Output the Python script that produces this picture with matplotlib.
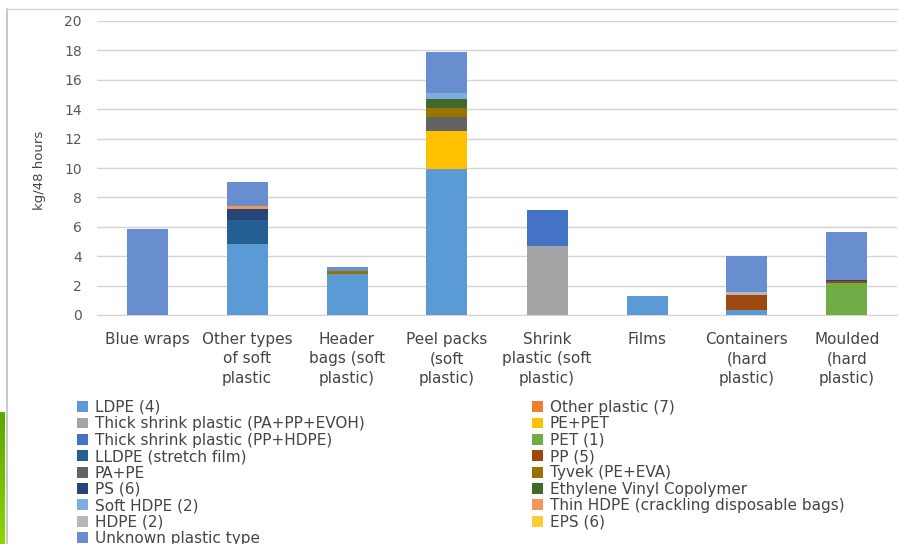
import matplotlib
matplotlib.use("Agg")
import matplotlib.pyplot as plt
import numpy as np
from matplotlib.lines import Line2D
from matplotlib.colors import LinearSegmentedColormap

categories = ["Blue wraps", "Other types\nof soft\nplastic", "Header\nbags (soft\nplastic)",
              "Peel packs\n(soft\nplastic)", "Shrink\nplastic (soft\nplastic)", "Films",
              "Containers\n(hard\nplastic)", "Moulded\n(hard\nplastic)"]

ldpe            = [0,    4.84, 2.80, 9.90, 0,    1.30, 0.34, 0]
thick_pa_pp     = [0,    0,    0,    0,    4.70, 0,    0,    0]
thick_pp_hdpe   = [0,    0,    0,    0,    2.46, 0,    0,    0]
lldpe           = [0,    1.64, 0,    0,    0,    0,    0,    0]
pa_pe           = [0,    0,    0,    0.91, 0,    0,    0,    0]
ps              = [0,    0.75, 0,    0,    0,    0,    0,    0.07]
soft_hdpe       = [0,    0,    0,    0.47, 0,    0,    0,    0]
hdpe            = [0,    0,    0,    0,    0,    0,    0.21, 0]
unknown         = [5.86, 1.64, 0.27, 2.73, 0,    0,    2.45, 3.27]
other_plastic   = [0,    0,    0,    0,    0,    0,    0,    0]
pe_pet          = [0,    0,    0,    2.64, 0,    0,    0,    0]
pet             = [0,    0,    0,    0,    0,    0,    0,    2.18]
pp              = [0,    0,    0,    0,    0,    0,    1.02, 0.14]
tyvek           = [0,    0,    0.20, 0.66, 0,    0,    0,    0]
evc             = [0,    0,    0,    0.55, 0,    0,    0,    0]
thin_hdpe       = [0,    0.20, 0,    0,    0,    0,    0,    0]
eps             = [0,    0,    0,    0,    0,    0,    0,    0]

series = [
    ("LDPE (4)", ldpe, "#5B9BD5"),
    ("Thick shrink plastic (PA+PP+EVOH)", thick_pa_pp, "#A5A5A5"),
    ("Thick shrink plastic (PP+HDPE)", thick_pp_hdpe, "#4472C4"),
    ("LLDPE (stretch film)", lldpe, "#255E91"),
    ("PA+PE", pa_pe, "#636363"),
    ("PS (6)", ps, "#264478"),
    ("Soft HDPE (2)", soft_hdpe, "#7CAFDD"),
    ("HDPE (2)", hdpe, "#B7B7B7"),
    ("Unknown plastic type", unknown, "#698ED0"),
    ("Other plastic (7)", other_plastic, "#ED7D31"),
    ("PE+PET", pe_pet, "#FFC000"),
    ("PET (1)", pet, "#70AD47"),
    ("PP (5)", pp, "#9E480E"),
    ("Tyvek (PE+EVA)", tyvek, "#997300"),
    ("Ethylene Vinyl Copolymer", evc, "#43682B"),
    ("Thin HDPE (crackling disposable bags)", thin_hdpe, "#F1975A"),
    ("EPS (6)", eps, "#FFCD33"),
]

# stacking order as drawn (bottom to top)
stack_order = ["LDPE (4)", "Thick shrink plastic (PA+PP+EVOH)", "PET (1)", "PE+PET", "PA+PE",
               "LLDPE (stretch film)", "PP (5)", "HDPE (2)", "PS (6)", "Tyvek (PE+EVA)",
               "Ethylene Vinyl Copolymer", "Soft HDPE (2)", "Other plastic (7)",
               "Thin HDPE (crackling disposable bags)", "EPS (6)",
               "Thick shrink plastic (PP+HDPE)", "Unknown plastic type"]

plt.rcParams['font.family'] = ['DejaVu Sans']
txt = "#595959"
txt2 = "#454545"

fig = plt.figure(figsize=(8.99, 5.44), dpi=100)
ax = fig.add_axes([97/899, 229/544, 800/899, 294/544])

x = np.arange(len(categories))
bottom = np.zeros(len(categories))
handles = {}
lookup = {name: (vals, col) for name, vals, col in series}
for name in stack_order:
    vals, col = lookup[name]
    v = np.array(vals, dtype=float)
    b = ax.bar(x, v, 0.41, bottom=bottom, color=col, label=name, zorder=3, linewidth=0)
    handles[name] = b
    bottom += v

ax.set_xlim(-0.5, len(categories) - 0.5)
ax.set_ylim(0, 20)
ax.set_yticks(np.arange(0, 21, 2))
ax.yaxis.grid(True, color="#D4D4D4", linewidth=1, zorder=0)
for s in ["top", "right", "left"]:
    ax.spines[s].set_visible(False)
ax.spines["bottom"].set_color("#D4D4D4")
ax.tick_params(axis="both", length=0, colors=txt, labelsize=10)
ax.tick_params(axis="y", pad=11)
ax.set_xticks(x)
ax.set_xticklabels(categories, fontsize=11, color=txt2, linespacing=1.38, va="top")
ax.tick_params(axis="x", pad=12)
fig.text(39/899, 1 - 170/544, "kg/48 hours", rotation=90, ha="center", va="center",
         fontsize=9.5, color=txt2, family=["Liberation Sans Narrow", "DejaVu Sans"])

left_items = series[:9]
right_items = series[9:]
leg_kw = dict(loc="upper left", frameon=False, fontsize=11, handlelength=0.72,
              handleheight=0.72, labelspacing=0.09, handletextpad=0.45,
              labelcolor=txt2, borderpad=0, borderaxespad=0)
leg1 = fig.legend([handles[n] for n, _, _ in left_items], [n for n, _, _ in left_items],
                  bbox_to_anchor=(77/899, 1 - 400/544), **leg_kw)
leg2 = fig.legend([handles[n] for n, _, _ in right_items], [n for n, _, _ in right_items],
                  bbox_to_anchor=(532/899, 1 - 400/544), **leg_kw)

# frame border lines
fig.add_artist(Line2D([6.5/899, 6.5/899], [0, 1 - 9/544], color="#BFBFBF", lw=1.2,
                      transform=fig.transFigure))
fig.add_artist(Line2D([6.5/899, 1], [1 - 9/544, 1 - 9/544], color="#D9D9D9", lw=1,
                      transform=fig.transFigure))

# green gradient strip
gax = fig.add_axes([0, 0, 5/899, 132/544])
grad = np.linspace(0, 1, 100).reshape(-1, 1)
cm = LinearSegmentedColormap.from_list("g", ["#8FD400", "#5AA800"])
gax.imshow(grad, aspect="auto", cmap=cm, origin="lower")
gax.axis("off")

fig.savefig("out.png", dpi=100)
